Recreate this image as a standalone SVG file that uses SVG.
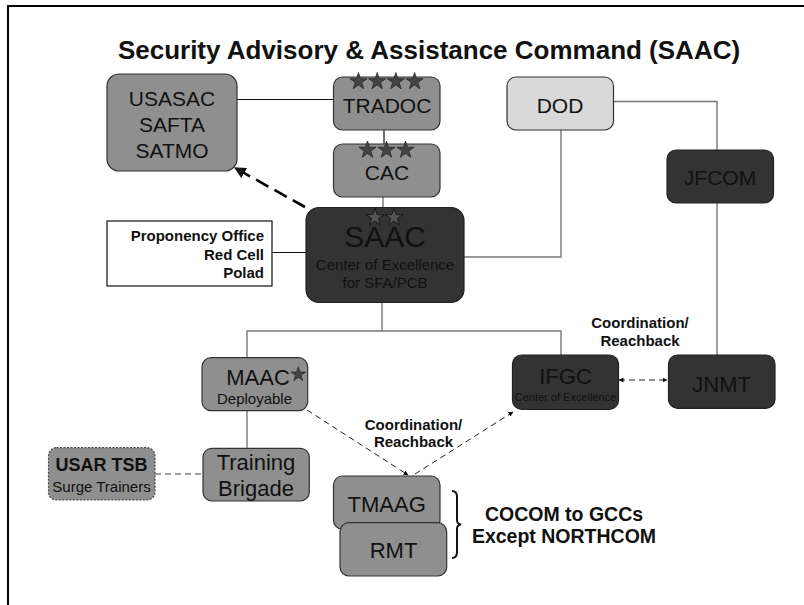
<svg xmlns="http://www.w3.org/2000/svg" xmlns:xlink="http://www.w3.org/1999/xlink" width="804" height="605" viewBox="0 0 804 605">
<style>
.t{font-family:"Liberation Sans",Arial,sans-serif;fill:#111;}
.b{font-weight:bold;}
.mid{fill:#8f8f8f;stroke:#333;stroke-width:1.2;}
.dark{fill:#333;stroke:#222;stroke-width:1.2;}
.light{fill:#d9d9d9;stroke:#333;stroke-width:1.2;}
.ln{fill:none;stroke:#777;stroke-width:1.4;}
.lk{fill:none;stroke:#111;stroke-width:1.2;}
.dsh{fill:none;stroke:#222;stroke-width:1;stroke-dasharray:6 4;}
.fstar{fill:#444;stroke:#222;stroke-width:0.8;}
.ostar{fill:#555;stroke:#111;stroke-width:0.9;}
</style>
<defs>
<path id="star" d="M0,-10 L2.245,-3.09 L9.511,-3.09 L3.633,1.18 L5.878,8.09 L0,3.82 L-5.878,8.09 L-3.633,1.18 L-9.511,-3.09 L-2.245,-3.09 Z"/>
<marker id="ah" viewBox="0 0 10 10" refX="9" refY="5" markerWidth="5" markerHeight="5" orient="auto-start-reverse">
<path d="M0,0 L10,5 L0,10 Z" fill="#111"/>
</marker>
<marker id="ahb" viewBox="0 0 10 10" refX="8" refY="5" markerWidth="4.5" markerHeight="4.5" orient="auto">
<path d="M0,0 L10,5 L0,10 Z" fill="#111"/>
</marker>
</defs>
<rect width="804" height="605" fill="#fff"/>
<path d="M8,610 V6 H810" fill="none" stroke="#000" stroke-width="2"/>
<text class="t b" x="429" y="59" font-size="26" text-anchor="middle" fill="#000">Security Advisory &amp; Assistance Command (SAAC)</text>

<g id="connectors">
<line class="lk" x1="237" y1="99.5" x2="333" y2="99.5"/>
<line class="lk" x1="384" y1="130" x2="384" y2="144"/>
<line class="ln" x1="383" y1="197" x2="383" y2="208"/>
<line class="lk" x1="272" y1="252.5" x2="306" y2="252.5"/>
<path class="ln" d="M464,257 H561 V130"/>
<path class="ln" d="M613,101.5 H717 V150"/>
<line class="ln" x1="717" y1="203" x2="717" y2="355"/>
<path class="ln" d="M382,303 V331 M247,357.7 V331 H561 V355"/>
<line class="ln" x1="247" y1="410.7" x2="247" y2="448.3" stroke="#444"/>
<line x1="155" y1="474" x2="203" y2="474" stroke="#808080" stroke-width="1.6" stroke-dasharray="6 4"/>
<line x1="305" y1="207" x2="236" y2="168.5" stroke="#000" stroke-width="2.6" stroke-dasharray="14 7" marker-end="url(#ahb)"/>
<line class="dsh" x1="307" y1="410" x2="408" y2="475" marker-end="url(#ah)"/>
<line class="dsh" x1="415" y1="474" x2="513" y2="412" marker-end="url(#ah)"/>
<line class="dsh" x1="619" y1="380" x2="667" y2="380" marker-start="url(#ah)" marker-end="url(#ah)"/>
<path d="M452,491 Q457,491 457,497 V520 Q457,524 461,524.5 Q457,525 457,529 V552 Q457,558 452,558" fill="none" stroke="#111" stroke-width="2"/>
</g>

<g id="usasac">
<rect class="mid" x="107" y="74" width="130" height="97" rx="12"/>
<text class="t" x="172" y="106" font-size="21" text-anchor="middle">USASAC</text>
<text class="t" x="172" y="132" font-size="21" text-anchor="middle">SAFTA</text>
<text class="t" x="172" y="157.5" font-size="21" text-anchor="middle">SATMO</text>
</g>

<g id="tradoc">
<rect class="mid" x="333.5" y="77" width="106.5" height="53" rx="9"/>
<use xlink:href="#star" class="fstar" transform="translate(358.5,81.5) scale(0.9)"/>
<use xlink:href="#star" class="fstar" transform="translate(377.2,81.5) scale(0.9)"/>
<use xlink:href="#star" class="fstar" transform="translate(395.9,81.5) scale(0.9)"/>
<use xlink:href="#star" class="fstar" transform="translate(414.6,81.5) scale(0.9)"/>
<text class="t" x="387" y="112.5" font-size="21" text-anchor="middle">TRADOC</text>
</g>

<g id="cac">
<rect class="mid" x="333.5" y="144" width="106.5" height="53" rx="9"/>
<use xlink:href="#star" class="fstar" transform="translate(367.5,150) scale(0.9)"/>
<use xlink:href="#star" class="fstar" transform="translate(386.5,150) scale(0.9)"/>
<use xlink:href="#star" class="fstar" transform="translate(405.5,150) scale(0.9)"/>
<text class="t" x="387" y="180" font-size="21" text-anchor="middle">CAC</text>
</g>

<g id="dod">
<rect class="light" x="507" y="77" width="106.5" height="53" rx="9"/>
<text class="t" x="560" y="112.5" font-size="21" text-anchor="middle">DOD</text>
</g>

<g id="jfcom">
<rect class="dark" x="667" y="150" width="106.5" height="53" rx="9"/>
<text class="t" x="720" y="185" font-size="21" text-anchor="middle">JFCOM</text>
</g>

<g id="proponency">
<rect x="107" y="221" width="165" height="65" fill="#fff" stroke="#111" stroke-width="1.2"/>
<text class="t b" x="264" y="241" font-size="15" text-anchor="end">Proponency Office</text>
<text class="t b" x="264" y="259.5" font-size="15" text-anchor="end">Red Cell</text>
<text class="t b" x="264" y="277.5" font-size="15" text-anchor="end">Polad</text>
</g>

<g id="saac">
<rect class="dark" x="306" y="207.5" width="158" height="95" rx="13"/>
<use xlink:href="#star" class="ostar" transform="translate(375,217.5) scale(0.92)"/>
<use xlink:href="#star" class="ostar" transform="translate(394,217.5) scale(0.92)"/>
<text class="t" x="385" y="247" font-size="30" text-anchor="middle">SAAC</text>
<text class="t" x="385" y="270" font-size="15" text-anchor="middle">Center of Excellence</text>
<text class="t" x="385" y="287.5" font-size="15" text-anchor="middle">for SFA/PCB</text>
</g>

<g id="maac">
<rect class="mid" x="202" y="357.7" width="105.7" height="53" rx="9"/>
<text class="t" x="258" y="384.5" font-size="22" text-anchor="middle">MAAC</text>
<use xlink:href="#star" class="fstar" transform="translate(298.3,374.4) scale(0.78)"/>
<text class="t" x="254.5" y="403.5" font-size="15" text-anchor="middle">Deployable</text>
</g>

<g id="training-brigade">
<rect class="mid" x="203" y="448.3" width="106.3" height="52.7" rx="9"/>
<text class="t" x="256" y="470" font-size="22" text-anchor="middle">Training</text>
<text class="t" x="256" y="496" font-size="22" text-anchor="middle">Brigade</text>
</g>

<g id="usar-tsb">
<rect x="48.5" y="447.7" width="106.5" height="52.3" rx="8" fill="#8f8f8f" stroke="#444" stroke-width="1.2" stroke-dasharray="2 1.5"/>
<text class="t b" x="101.5" y="471" font-size="18" text-anchor="middle">USAR TSB</text>
<text class="t" x="101.5" y="491.7" font-size="15" text-anchor="middle">Surge Trainers</text>
</g>

<g id="ifgc">
<rect class="dark" x="512.5" y="355" width="106" height="54.3" rx="9"/>
<text class="t" x="565.5" y="383.5" font-size="22" text-anchor="middle">IFGC</text>
<text class="t" x="565.5" y="400.7" font-size="11" text-anchor="middle">Center of Excellence</text>
</g>

<g id="jnmt">
<rect class="dark" x="668.5" y="355" width="106.5" height="53.3" rx="9"/>
<text class="t" x="721.7" y="391.7" font-size="22" text-anchor="middle">JNMT</text>
</g>

<g id="tmaag">
<rect class="mid" x="333.5" y="476" width="106.5" height="53.3" rx="9"/>
<text class="t" x="386.7" y="511.7" font-size="22" text-anchor="middle">TMAAG</text>
</g>

<g id="rmt">
<rect class="mid" x="340" y="522.7" width="106.7" height="53.3" rx="9"/>
<text class="t" x="393.5" y="558.3" font-size="22" text-anchor="middle">RMT</text>
</g>

<g id="labels">
<text class="t b" x="640" y="328" font-size="15" text-anchor="middle">Coordination/</text>
<text class="t b" x="640" y="345.5" font-size="15" text-anchor="middle">Reachback</text>
<text class="t b" x="413.5" y="430" font-size="15" text-anchor="middle">Coordination/</text>
<text class="t b" x="413.5" y="447" font-size="15" text-anchor="middle">Reachback</text>
<text class="t b" x="564" y="521" font-size="19.5" text-anchor="middle">COCOM to GCCs</text>
<text class="t b" x="564" y="543" font-size="19.5" text-anchor="middle">Except NORTHCOM</text>
</g>
</svg>
